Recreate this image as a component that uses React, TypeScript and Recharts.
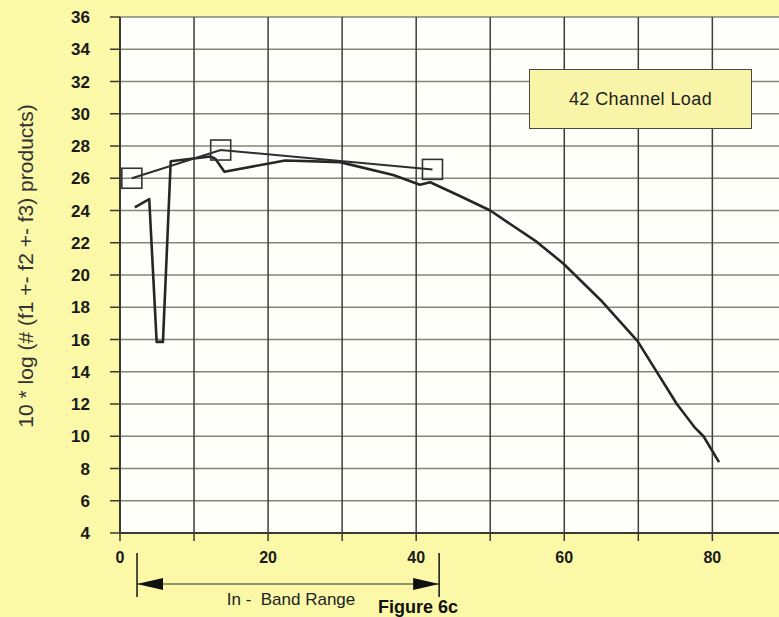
import React from 'react';
import { LineChart, Line, XAxis, YAxis, CartesianGrid } from 'recharts';

// ---- data ----
const curveX = [2.0, 3.95, 4.95, 5.8, 6.85, 12.2, 12.9, 14.1, 22.3, 29.7, 36.9, 40.5, 41.9, 45.9, 50, 56.3, 59.9, 64.9, 69.9, 75.2, 77.7, 78.8, 80.9];
const curveY = [24.2, 24.7, 15.85, 15.85, 27.05, 27.35, 27.2, 26.4, 27.1, 27.0, 26.2, 25.6, 25.75, 24.9, 24.0, 22.05, 20.7, 18.45, 15.9, 12.0, 10.5, 10.0, 8.4];
const markerX = [1.6, 13.6, 42.2];
const markerY = [26.0, 27.75, 26.55];
const xTicks = [0, 10, 20, 30, 40, 50, 60, 70, 80];
const yTicks = [4, 6, 8, 10, 12, 14, 16, 18, 20, 22, 24, 26, 28, 30, 32, 34, 36];
const bandRange = [2.3, 43.1];
const yLabel = '10 * log (# (f1 +- f2 +- f3) products)';
const legendText = '42 Channel Load';
const bandText = 'In -  Band Range';
const figureText = 'Figure 6c';

const curveData = curveX.map((x, i) => ({ x, y: curveY[i] }));
const markerData = markerX.map((x, i) => ({ x, y: markerY[i] }));

const W = 779;
const H = 617;
const PLOT_LEFT = 120;
const PLOT_TOP = 17;
const PLOT_BOTTOM = 533;
const X_MAX = 89;
const toPx = (v: number) => PLOT_LEFT + (v / X_MAX) * (W - PLOT_LEFT);

const FONT = '"Liberation Sans", Arial, Helvetica, sans-serif';

const SquareDot = (props: any) => {
  const { cx, cy } = props;
  if (cx == null || cy == null) return null;
  return <rect x={cx - 10} y={cy - 10} width={20} height={20} fill="none" stroke="#333" strokeWidth={1.6} />;
};

const XTick = (props: any) => {
  const { x, y, payload } = props;
  if (payload.value % 20 !== 0) return null;
  return (
    <text x={x} y={y + 20} textAnchor="middle" fontFamily={FONT} fontWeight="bold" fontSize={16} fill="#1a1a1a">
      {payload.value}
    </text>
  );
};

const YTick = (props: any) => {
  const { x, y, payload } = props;
  return (
    <text x={x} y={y + 6} textAnchor="end" fontFamily={FONT} fontWeight="bold" fontSize={17} fill="#1a1a1a">
      {payload.value}
    </text>
  );
};

const YLabel = (props: any) => {
  const vb = props.viewBox || { x: 0, y: PLOT_TOP, height: PLOT_BOTTOM - PLOT_TOP };
  const cx = vb.x + 25;
  const cy = 266;
  return (
    <text x={cx} y={cy} transform={`rotate(-90 ${cx} ${cy})`} textAnchor="middle" dominantBaseline="central"
      fontFamily={FONT} fontSize={21} fill="#333">
      {yLabel}
    </text>
  );
};

export default function App() {
  const bx0 = toPx(bandRange[0]);
  const bx1 = toPx(bandRange[1]);
  const ay = 584;
  return (
    <div style={{ position: 'absolute', left: 0, top: 0, width: W, height: H, background: '#fbf8a8', overflow: 'hidden' }}>
      <LineChart width={W} height={H} margin={{ top: PLOT_TOP, right: 0, bottom: 0, left: 0 }}>
        <CartesianGrid vertical={false} horizontal stroke="#85857a" strokeWidth={1.5} fill="#fefefb" fillOpacity={1}
          horizontalValues={yTicks} />
        <CartesianGrid horizontal={false} vertical stroke="#3e3e3a" strokeWidth={1.5} verticalValues={xTicks} />
        <XAxis type="number" dataKey="x" domain={[0, X_MAX]} ticks={xTicks} allowDataOverflow interval={0}
          height={H - PLOT_BOTTOM} tickSize={8} tick={<XTick />}
          axisLine={{ stroke: '#3a3a30', strokeWidth: 2 }} tickLine={{ stroke: '#3a3a30', strokeWidth: 1.5 }} />
        <YAxis type="number" dataKey="y" domain={[4, 36]} ticks={yTicks} interval={0} width={PLOT_LEFT}
          tickSize={10} tickMargin={20} tick={<YTick />}
          axisLine={{ stroke: '#3a3a30', strokeWidth: 2 }} tickLine={{ stroke: '#3a3a30', strokeWidth: 1.5 }}
          label={<YLabel />} />
        <Line data={curveData} dataKey="y" type="linear" stroke="#262626" strokeWidth={2.6} dot={false}
          isAnimationActive={false} strokeLinejoin="round" />
        <Line data={markerData} dataKey="y" type="linear" stroke="#2e2e2e" strokeWidth={2} dot={<SquareDot />}
          activeDot={false} isAnimationActive={false} />
      </LineChart>
      <div style={{
        position: 'absolute', left: 529, top: 69, width: 223, height: 60, boxSizing: 'border-box',
        border: '1.5px solid #4a4a40', background: '#f9f5a8', display: 'flex', alignItems: 'center',
        justifyContent: 'center', fontFamily: FONT, fontSize: 18, color: '#1e1e1e', letterSpacing: 0.4
      }}>{legendText}</div>
      <svg width={W} height={H} style={{ position: 'absolute', left: 0, top: 0, pointerEvents: 'none' }}>
        <line x1={bx0} y1={553} x2={bx0} y2={597} stroke="#222" strokeWidth={1.6} />
        <line x1={bx1} y1={553} x2={bx1} y2={597} stroke="#222" strokeWidth={1.6} />
        <line x1={bx0} y1={ay} x2={bx1} y2={ay} stroke="#333" strokeWidth={1.2} />
        <polygon points={`${bx0},${ay} ${bx0 + 26},${ay - 6} ${bx0 + 26},${ay + 6}`} fill="#111" />
        <polygon points={`${bx1},${ay} ${bx1 - 26},${ay - 6} ${bx1 - 26},${ay + 6}`} fill="#111" />
        <text x={291} y={605} textAnchor="middle" fontFamily={FONT} fontSize={17} fill="#222" style={{ whiteSpace: 'pre' }}>
          {bandText}
        </text>
        <text x={378} y={613} fontFamily={FONT} fontSize={18} fontWeight="bold" fill="#111">{figureText}</text>
      </svg>
    </div>
  );
}
